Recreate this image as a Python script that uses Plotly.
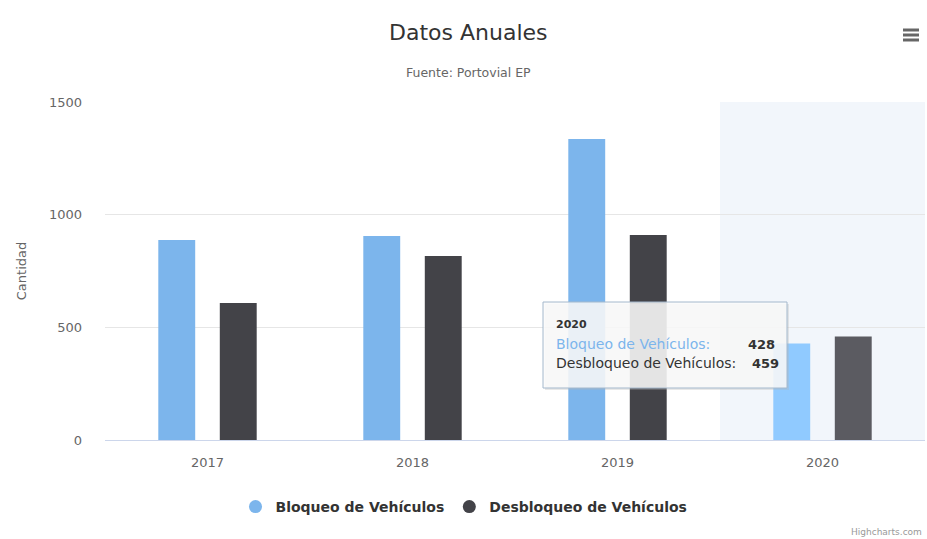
"""Datos Anuales - bloqueo / desbloqueo de vehiculos (Portovial EP)."""

import plotly.graph_objects as go

YEARS = ["2017", "2018", "2019", "2020"]
BLOQUEO = [888, 905, 1336, 428]
DESBLOQUEO = [608, 817, 910, 459]
SERIES = ["Bloqueo de Vehículos", "Desbloqueo de Vehículos"]
HOVER_YEAR = "2020"

BLUE = "#7cb5ec"
DARK = "#434348"
BLUE_HOVER = "#90caff"
DARK_HOVER = "#5b5b61"
FONT = "DejaVu Sans, Verdana, sans-serif"
TIP_FONT = "DejaVu Sans, Arial, sans-serif"

# plot area in pixels (used to place tooltip / legend in paper coords)
W, H = 927, 539
L, R, T, B = 105, 2, 102, 99
PW, PH = W - L - R, H - T - B


def px_x(px):
    return (px - L) / PW


def px_y(py):
    return (H - B - py) / PH


def main():
    hi = YEARS.index(HOVER_YEAR)
    blue_cols = [BLUE_HOVER if i == hi else BLUE for i in range(len(YEARS))]
    dark_cols = [DARK_HOVER if i == hi else DARK for i in range(len(YEARS))]

    fig = go.Figure()
    fig.add_trace(go.Bar(x=YEARS, y=BLOQUEO, name=SERIES[0], marker_color=blue_cols,
                         marker_line_width=0, showlegend=False, hoverinfo="skip"))
    fig.add_trace(go.Bar(x=YEARS, y=DESBLOQUEO, name=SERIES[1], marker_color=dark_cols,
                         marker_line_width=0, showlegend=False, hoverinfo="skip"))
    # legend entries with round symbols, like Highcharts
    for name, col in zip(SERIES, [BLUE, DARK]):
        fig.add_trace(go.Scatter(x=[None], y=[None], mode="markers", name=f"<b>{name}</b>",
                                 marker=dict(symbol="circle", size=13, color=col)))

    # hovered category band
    fig.add_shape(type="rect", xref="x", yref="paper", x0=hi - 0.5, x1=hi + 0.5,
                  y0=0, y1=1, fillcolor="rgba(204,218,240,0.25)", line_width=0, layer="below")

    # tooltip box
    fig.add_shape(type="rect", xref="paper", yref="paper",
                  x0=px_x(545), x1=px_x(789), y0=px_y(390), y1=px_y(304),
                  fillcolor="rgba(180,180,180,0.3)", line_width=0, layer="above")
    fig.add_shape(type="rect", xref="paper", yref="paper",
                  x0=px_x(543), x1=px_x(787), y0=px_y(388), y1=px_y(302),
                  fillcolor="rgba(250,250,250,0.85)", line=dict(color="#a4b8cc", width=1),
                  layer="above")
    fig.add_annotation(xref="paper", yref="paper", x=px_x(554), y=px_y(324),
                       text=f"<b>{HOVER_YEAR}</b>", showarrow=False, xanchor="left",
                       yanchor="middle", font=dict(size=11, color="#333333", family=TIP_FONT))
    fig.add_annotation(xref="paper", yref="paper", x=px_x(554), y=px_y(344),
                       text=f"{SERIES[0]}:", showarrow=False, xanchor="left",
                       yanchor="middle", font=dict(size=14, color=BLUE, family=TIP_FONT))
    fig.add_annotation(xref="paper", yref="paper", x=px_x(554), y=px_y(363),
                       text=f"{SERIES[1]}:", showarrow=False, xanchor="left",
                       yanchor="middle", font=dict(size=14, color="#333333", family=TIP_FONT))
    fig.add_annotation(xref="paper", yref="paper", x=px_x(777), y=px_y(344),
                       text=f"<b>{BLOQUEO[hi]}</b>", showarrow=False, xanchor="right",
                       yanchor="middle", font=dict(size=13, color="#333333", family=TIP_FONT))
    fig.add_annotation(xref="paper", yref="paper", x=px_x(781), y=px_y(363),
                       text=f"<b>{DESBLOQUEO[hi]}</b>", showarrow=False, xanchor="right",
                       yanchor="middle", font=dict(size=13, color="#333333", family=TIP_FONT))

    # title / subtitle
    fig.add_annotation(xref="paper", yref="paper", x=px_x(468), y=px_y(33),
                       text="Datos Anuales", showarrow=False, xanchor="center", yanchor="middle",
                       font=dict(size=22, color="#333333", family=FONT))
    fig.add_annotation(xref="paper", yref="paper", x=px_x(468), y=px_y(72),
                       text="Fuente: Portovial EP", showarrow=False, xanchor="center",
                       yanchor="middle", font=dict(size=12.5, color="#666666", family=FONT))
    # menu icon
    for dy in (-5, 0, 5):
        fig.add_shape(type="line", xref="paper", yref="paper",
                      x0=px_x(903), x1=px_x(919), y0=px_y(35 + dy), y1=px_y(35 + dy),
                      line=dict(color="#666666", width=3))
    # credits
    fig.add_annotation(xref="paper", yref="paper", x=px_x(924), y=px_y(532),
                       text="Highcharts.com", showarrow=False, xanchor="right", yanchor="middle",
                       font=dict(size=9, color="#999999", family=FONT))

    fig.update_layout(
        width=W,
        height=H,
        margin=dict(l=L, r=R, t=T, b=B, autoexpand=False),
        paper_bgcolor="white",
        plot_bgcolor="white",
        barmode="group",
        bargap=0.4,
        bargroupgap=0.4,
        font=dict(family=FONT, color="#666666"),
        legend=dict(orientation="h", x=px_x(464), xanchor="center", y=px_y(491),
                    yanchor="top", font=dict(size=14, color="#333333", family=FONT),
                    itemclick=False, traceorder="normal", itemwidth=30),
        showlegend=True,
    )
    fig.update_xaxes(range=[-0.5, len(YEARS) - 0.5], showgrid=False, showline=True,
                     linecolor="#ccd6eb", linewidth=1, ticks="", tickfont=dict(size=13, color="#666666"),
                     ticklabelstandoff=10)
    fig.update_yaxes(range=[0, 1500], dtick=500, showgrid=True, gridcolor="#e6e6e6", zeroline=False,
                     showline=False, tickfont=dict(size=13, color="#666666"), ticklabelstandoff=22,
                     title=dict(text="Cantidad", font=dict(size=13, color="#666666"), standoff=19))

    # the page body has a default 8px margin; remove it so the chart fills the window
    fig.write_html("out.html", config={"displayModeBar": False},
                   post_script="document.body.style.margin='0';")


if __name__ == "__main__":
    main()
